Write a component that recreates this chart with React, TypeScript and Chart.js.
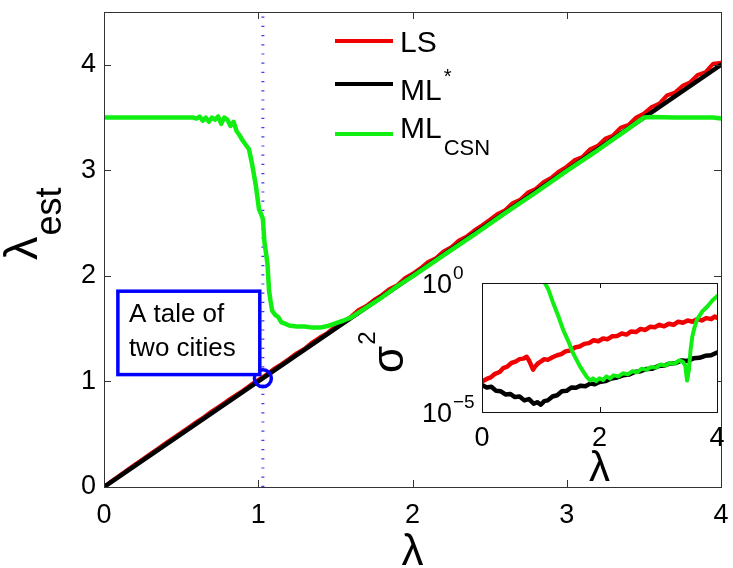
import React, { useEffect, useRef } from "react";
import { Chart, registerables } from "chart.js";

Chart.register(...registerables);

const FONT = '"Liberation Sans", Arial, Helvetica, sans-serif';
const AXIS = "#333333";
const RED = "#f00000";
const BLACK = "#000000";
const GREEN = "#11ee11";
const BLUE = "#0000ff";

// ---------- main axes ----------
const xTickValues = [0, 1, 2, 3, 4];
const yTickValues = [0, 1, 2, 3, 4];

const lsLambda = [
  0, 0.05, 0.1, 0.15, 0.2, 0.25, 0.3, 0.35, 0.4, 0.45, 0.5, 0.55, 0.6, 0.65, 0.7, 0.75, 0.8, 0.85, 0.9, 0.95,
  1.0, 1.05, 1.1, 1.15, 1.2, 1.25, 1.3, 1.35, 1.4, 1.45, 1.5, 1.55, 1.6, 1.65, 1.7, 1.75, 1.8, 1.85, 1.9, 1.95,
  2.0, 2.05, 2.1, 2.15, 2.2, 2.25, 2.3, 2.35, 2.4, 2.45, 2.5, 2.55, 2.6, 2.65, 2.7, 2.75, 2.8, 2.85, 2.9, 2.95,
  3.0, 3.05, 3.1, 3.15, 3.2, 3.25, 3.3, 3.35, 3.4, 3.45, 3.5, 3.55, 3.6, 3.65, 3.7, 3.75, 3.8, 3.85, 3.9, 3.95, 4.0,
];
const lsEst = [
  0, 0.055, 0.108, 0.16, 0.212, 0.262, 0.314, 0.363, 0.415, 0.466, 0.514, 0.566, 0.617, 0.664, 0.718, 0.765, 0.817, 0.866, 0.912, 0.966,
  1.015, 1.062, 1.118, 1.163, 1.214, 1.268, 1.31, 1.37, 1.418, 1.46, 1.522, 1.568, 1.612, 1.676, 1.715, 1.772, 1.818, 1.876, 1.91, 1.978,
  2.02, 2.07, 2.13, 2.166, 2.232, 2.27, 2.335, 2.372, 2.43, 2.478, 2.53, 2.585, 2.622, 2.69, 2.724, 2.792, 2.825, 2.89, 2.93, 2.99,
  3.035, 3.096, 3.125, 3.198, 3.232, 3.3, 3.33, 3.405, 3.43, 3.5, 3.538, 3.6, 3.632, 3.71, 3.735, 3.8, 3.835, 3.905, 3.93, 4.01, 4.02,
];

const mlLambda = [0, 0.5, 1, 1.5, 2, 2.5, 3, 3.5, 4];
const mlEst = [0, 0.5, 1, 1.5, 2, 2.5, 3, 3.5, 4];

const csnLambda = [
  0, 0.2, 0.4, 0.58, 0.6, 0.62, 0.64, 0.66, 0.68, 0.7, 0.72, 0.74, 0.76, 0.78, 0.8, 0.82, 0.84, 0.86, 0.88, 0.9,
  0.92, 0.94, 0.96, 0.985, 1.005, 1.02, 1.03, 1.04, 1.05, 1.06, 1.07, 1.08, 1.09, 1.11, 1.13, 1.15, 1.17, 1.2,
  1.25, 1.3, 1.35, 1.4, 1.45, 1.5, 1.55, 1.6, 1.7, 1.8, 1.9, 2.0, 2.2, 2.4, 2.6, 2.8, 3.0, 3.2, 3.4, 3.5, 3.55,
  3.7, 3.85, 3.95, 4.0,
];
const csnEst = [
  3.5, 3.5, 3.5, 3.5, 3.49, 3.51, 3.47, 3.5, 3.46, 3.5, 3.48, 3.51, 3.44, 3.5, 3.48, 3.42, 3.46, 3.37, 3.33, 3.28,
  3.24, 3.2, 3.06, 2.85, 2.63, 2.58, 2.54, 2.32, 2.22, 2.11, 1.86, 1.76, 1.67, 1.63, 1.61, 1.56, 1.55, 1.53,
  1.52, 1.52, 1.51, 1.51, 1.525, 1.55, 1.575, 1.605, 1.7, 1.795, 1.9, 1.995, 2.195, 2.39, 2.595, 2.79, 2.995, 3.19, 3.395, 3.5, 3.505,
  3.5, 3.5, 3.5, 3.49,
];

const cityLambda = [1.03];
const cityEst = [1.03];
const guideLambda = [1.03, 1.03];
const guideEst = [0, 4.5];

const noteLines = ["A tale of", "two cities"];
const noteCorners = { lambda: [0.09, 1.01], est: [1.065, 1.855] };

// ---------- inset axes ----------
const insetXTickValues = [0, 2, 4];
const insetYTickValues = [1e-5, 1];
const insetYTickExponents = ["\u22125", "0"];

const inLsLambda = [
  0, 0.08, 0.15, 0.22, 0.3, 0.36, 0.43, 0.5, 0.57, 0.64, 0.7, 0.76, 0.8, 0.84, 0.87, 0.9, 0.95, 1.0, 1.06, 1.12,
  1.2, 1.28, 1.35, 1.42, 1.5, 1.58, 1.66, 1.74, 1.82, 1.9, 1.98, 2.06, 2.14, 2.22, 2.3, 2.38, 2.46, 2.54, 2.62, 2.7,
  2.78, 2.86, 2.94, 3.02, 3.1, 3.18, 3.26, 3.34, 3.42, 3.5, 3.58, 3.66, 3.74, 3.82, 3.9, 3.96, 4.0,
];
const inLsVar = [
  1.51e-4, 1.91e-4, 2.19e-4, 3.02e-4, 3.55e-4, 5.01e-4, 5.75e-4, 7.94e-4, 8.91e-4, 1.12e-3, 1.17e-3, 1.38e-3, 1.0e-3, 6.31e-4, 4.37e-4, 5.62e-4, 7.59e-4, 8.91e-4, 1.12e-3, 1.05e-3,
  1.32e-3, 1.58e-3, 1.74e-3, 2.24e-3, 2.4e-3, 3.16e-3, 3.47e-3, 4.37e-3, 4.68e-3, 6.03e-3, 5.5e-3, 7.08e-3, 6.61e-3, 8.71e-3, 8.91e-3, 1.1e-2, 1.0e-2, 1.32e-2, 1.26e-2, 1.66e-2,
  1.51e-2, 2.0e-2, 1.91e-2, 2.4e-2, 2.09e-2, 2.63e-2, 2.4e-2, 3.16e-2, 2.88e-2, 3.55e-2, 3.16e-2, 3.98e-2, 3.55e-2, 4.37e-2, 3.98e-2, 5.01e-2, 4.57e-2,
];

const inMlLambda = [
  0, 0.08, 0.16, 0.24, 0.32, 0.4, 0.48, 0.56, 0.64, 0.72, 0.8, 0.88, 0.94, 1.0, 1.06, 1.12, 1.2, 1.28, 1.36, 1.44,
  1.52, 1.6, 1.68, 1.76, 1.84, 1.92, 2.0, 2.1, 2.2, 2.3, 2.4, 2.5, 2.6, 2.7, 2.8, 2.9, 3.0, 3.1, 3.2, 3.3,
  3.4, 3.5, 3.6, 3.7, 3.8, 3.9, 4.0,
];
const inMlVar = [
  1.12e-4, 8.91e-5, 9.55e-5, 6.61e-5, 6.31e-5, 4.79e-5, 5.01e-5, 3.8e-5, 3.98e-5, 2.82e-5, 3.16e-5, 2.09e-5, 2.4e-5, 1.91e-5, 2.63e-5, 2.82e-5, 3.98e-5, 4.47e-5, 6.31e-5, 6.61e-5,
  8.91e-5, 8.71e-5, 1.05e-4, 1.0e-4, 1.26e-4, 1.2e-4, 1.45e-4, 1.58e-4, 2.0e-4, 2.19e-4, 2.63e-4, 2.82e-4, 3.55e-4, 3.8e-4, 4.68e-4, 4.79e-4, 6.03e-4, 6.31e-4, 7.59e-4, 7.94e-4,
  1.0e-3, 9.55e-4, 1.2e-3, 1.26e-3, 1.51e-3, 1.58e-3, 2.0e-3,
];

const inCsnLambda = [
  0, 0.5, 0.8, 0.95, 1.03, 1.07, 1.13, 1.21, 1.3, 1.38, 1.47, 1.55, 1.67, 1.78, 1.84, 1.89, 1.94, 2.0, 2.06, 2.12,
  2.18, 2.24, 2.32, 2.4, 2.48, 2.56, 2.64, 2.72, 2.8, 2.88, 2.96, 3.04, 3.12, 3.2, 3.28, 3.36, 3.42, 3.46, 3.49, 3.52,
  3.55, 3.58, 3.62, 3.66, 3.75, 3.84, 3.92, 4.0,
];
const inCsnVar = [
  12, 9, 6, 3, 1.5, 1.0, 0.562, 0.17, 5.13e-2, 1.55e-2, 5.5e-3, 1.91e-3, 5.75e-4, 2.34e-4, 1.66e-4, 2.0e-4, 1.58e-4, 2.04e-4, 1.74e-4, 2.4e-4,
  2.0e-4, 2.63e-4, 2.4e-4, 3.16e-4, 2.88e-4, 3.8e-4, 3.47e-4, 4.79e-4, 4.37e-4, 5.5e-4, 5.25e-4, 6.92e-4, 6.31e-4, 7.94e-4, 7.59e-4, 1.0e-3, 8.71e-4, 6.31e-4, 1.66e-4, 3.98e-4,
  2.51e-3, 8.51e-3, 2.0e-2, 3.8e-2, 7.94e-2, 0.126, 0.209, 0.309,
];

const pts = (xs: number[], ys: number[]) => xs.map((x, i) => ({ x, y: ys[i] }));

function inwardTicks(ctx: CanvasRenderingContext2D, chart: any, xs: number[], ys: number[], len: number) {
  const a = chart.chartArea;
  const sx = chart.scales.x;
  const sy = chart.scales.y;
  ctx.beginPath();
  xs.forEach((v) => {
    const p = Math.round(sx.getPixelForValue(v)) + 0.5;
    ctx.moveTo(p, a.bottom);
    ctx.lineTo(p, a.bottom - len);
    ctx.moveTo(p, a.top);
    ctx.lineTo(p, a.top + len);
  });
  ys.forEach((v) => {
    const p = Math.round(sy.getPixelForValue(v)) + 0.5;
    ctx.moveTo(a.left, p);
    ctx.lineTo(a.left + len, p);
    ctx.moveTo(a.right, p);
    ctx.lineTo(a.right - len, p);
  });
  ctx.stroke();
  ctx.strokeRect(Math.round(a.left) + 0.5, Math.round(a.top) + 0.5, Math.round(a.right - a.left), Math.round(a.bottom - a.top));
}

const mainDecor = {
  id: "mainDecor",
  afterDatasetsDraw(chart: any) {
    const { ctx, scales } = chart;
    const sx = scales.x;
    const sy = scales.y;
    ctx.save();
    // note box
    const l = sx.getPixelForValue(noteCorners.lambda[0]);
    const r = sx.getPixelForValue(noteCorners.lambda[1]);
    const b = sy.getPixelForValue(noteCorners.est[0]);
    const t = sy.getPixelForValue(noteCorners.est[1]);
    ctx.fillStyle = "#ffffff";
    ctx.fillRect(l, t, r - l, b - t);
    ctx.strokeStyle = BLUE;
    ctx.lineWidth = 3.5;
    ctx.strokeRect(l, t, r - l, b - t);
    ctx.fillStyle = "#000";
    ctx.font = `26px ${FONT}`;
    ctx.textAlign = "left";
    ctx.textBaseline = "alphabetic";
    ctx.fillText(noteLines[0], l + 11, t + 31);
    ctx.fillText(noteLines[1], l + 11, t + 65);

    // frame + inward ticks
    ctx.strokeStyle = AXIS;
    ctx.lineWidth = 1;
    inwardTicks(ctx, chart, xTickValues, yTickValues, 7);

    // legend
    const legendY = [41, 84, 134];
    const legendColors = [RED, BLACK, GREEN];
    ctx.lineWidth = 4;
    legendY.forEach((y, i) => {
      ctx.strokeStyle = legendColors[i];
      ctx.beginPath();
      ctx.moveTo(335, y);
      ctx.lineTo(393, y);
      ctx.stroke();
    });
    ctx.fillStyle = "#000";
    ctx.font = `30px ${FONT}`;
    ctx.fillText("LS", 400, 52);
    ctx.fillText("ML", 400, 100);
    const mlW = ctx.measureText("ML").width;
    ctx.fillText("ML", 400, 138);
    ctx.font = `20px ${FONT}`;
    ctx.fillText("*", 400 + mlW + 2, 83);
    ctx.font = `22px ${FONT}`;
    ctx.fillText("CSN", 400 + mlW + 2, 155);

    // axis titles
    ctx.font = `44px ${FONT}`;
    ctx.textAlign = "center";
    ctx.fillText("\u03bb", sx.getPixelForValue(2), 565);

    ctx.save();
    ctx.translate(37, 260);
    ctx.rotate(-Math.PI / 2);
    ctx.textAlign = "left";
    ctx.font = `47px ${FONT}`;
    ctx.fillText("\u03bb", 0, 0);
    const lw = ctx.measureText("\u03bb").width;
    ctx.font = `36px ${FONT}`;
    ctx.fillText("est", lw + 1, 24);
    ctx.restore();

    ctx.restore();
  },
};

const insetDecor = {
  id: "insetDecor",
  beforeDatasetsDraw(chart: any) {
    const { ctx, chartArea: a } = chart;
    ctx.save();
    ctx.fillStyle = "#ffffff";
    ctx.fillRect(a.left, a.top, a.right - a.left, a.bottom - a.top);
    ctx.restore();
  },
  afterDatasetsDraw(chart: any) {
    const { ctx, chartArea: a, scales } = chart;
    const sx = scales.x;
    const sy = scales.y;
    ctx.save();
    ctx.strokeStyle = "#111";
    ctx.lineWidth = 1;
    inwardTicks(ctx, chart, insetXTickValues, insetYTickValues, 5);

    ctx.fillStyle = "#000";
    ctx.textBaseline = "alphabetic";
    insetYTickValues.forEach((v, i) => {
      const p = sy.getPixelForValue(v);
      ctx.font = `27px ${FONT}`;
      ctx.textAlign = "right";
      ctx.fillText("10", a.left - 30, p + 10);
      ctx.font = `19px ${FONT}`;
      ctx.textAlign = "left";
      ctx.fillText(insetYTickExponents[i], a.left - 29, p - 4);
    });

    ctx.font = `42px ${FONT}`;
    ctx.textAlign = "center";
    ctx.fillText("\u03bb", sx.getPixelForValue(2), 219);

    ctx.save();
    ctx.translate(73, 111);
    ctx.rotate(-Math.PI / 2);
    ctx.textAlign = "left";
    ctx.font = `44px ${FONT}`;
    ctx.fillText("\u03c3", 0, 0);
    const sw = ctx.measureText("\u03c3").width;
    ctx.font = `24px ${FONT}`;
    ctx.fillText("2", sw + 1, -28);
    ctx.restore();

    ctx.restore();
  },
};

function lineSet(label: string, data: any[], color: string, width: number) {
  return {
    label,
    data,
    showLine: true,
    borderColor: color,
    backgroundColor: color,
    borderWidth: width,
    pointRadius: 0,
    tension: 0,
    borderJoinStyle: "round",
    borderCapStyle: "round",
  };
}

export default function App() {
  const mainRef = useRef<HTMLCanvasElement>(null);
  const insetRef = useRef<HTMLCanvasElement>(null);

  useEffect(() => {
    const tickFont = { family: FONT, size: 27 };
    const main = new Chart(mainRef.current as HTMLCanvasElement, {
      type: "scatter",
      data: {
        datasets: [
          {
            label: "city",
            data: pts(cityLambda, cityEst),
            showLine: false,
            pointRadius: 8.5,
            pointBorderWidth: 3.5,
            pointBorderColor: BLUE,
            pointBackgroundColor: "rgba(0,0,0,0)",
          } as any,
          lineSet("MLCSN", pts(csnLambda, csnEst), GREEN, 4.5),
          lineSet("ML*", pts(mlLambda, mlEst), BLACK, 4.5),
          lineSet("LS", pts(lsLambda, lsEst), RED, 4),
          {
            label: "guide",
            data: pts(guideLambda, guideEst),
            showLine: true,
            borderColor: "#3a3aff",
            borderWidth: 3,
            borderDash: [1.2, 8],
            pointRadius: 0,
          } as any,
        ],
      },
      options: {
        responsive: false,
        animation: false,
        devicePixelRatio: 1,
        layout: { padding: { left: 0, right: 10, top: 2, bottom: 0 } },
        plugins: { legend: { display: false }, tooltip: { enabled: false } },
        scales: {
          x: {
            type: "linear",
            min: 0,
            max: 4,
            afterBuildTicks: (s: any) => {
              s.ticks = xTickValues.map((v) => ({ value: v }));
            },
            afterFit: (s: any) => {
              s.height = 81;
              s.paddingLeft = 0;
              s.paddingRight = 0;
            },
            ticks: { font: tickFont, color: "#000", padding: 12, maxRotation: 0, autoSkip: false },
            grid: { display: false, drawTicks: false },
            border: { display: false },
          },
          y: {
            type: "linear",
            min: 0,
            max: 4.5,
            afterBuildTicks: (s: any) => {
              s.ticks = yTickValues.map((v) => ({ value: v }));
            },
            afterFit: (s: any) => {
              s.width = 104;
              s.paddingTop = 0;
              s.paddingBottom = 0;
            },
            ticks: { font: tickFont, color: "#000", padding: 8, autoSkip: false },
            grid: { display: false, drawTicks: false },
            border: { display: false },
          },
        },
      } as any,
      plugins: [mainDecor],
    });

    const inset = new Chart(insetRef.current as HTMLCanvasElement, {
      type: "scatter",
      data: {
        datasets: [
          lineSet("MLCSN", pts(inCsnLambda, inCsnVar), GREEN, 4),
          lineSet("LS", pts(inLsLambda, inLsVar), RED, 4.5),
          lineSet("ML*", pts(inMlLambda, inMlVar), BLACK, 4.5),
        ],
      },
      options: {
        responsive: false,
        animation: false,
        devicePixelRatio: 1,
        layout: { padding: { left: 0, right: 13, top: 21, bottom: 0 } },
        plugins: { legend: { display: false }, tooltip: { enabled: false } },
        scales: {
          x: {
            type: "linear",
            min: 0,
            max: 4,
            afterBuildTicks: (s: any) => {
              s.ticks = insetXTickValues.map((v) => ({ value: v }));
            },
            afterFit: (s: any) => {
              s.height = 86;
              s.paddingLeft = 0;
              s.paddingRight = 0;
            },
            ticks: { font: { family: FONT, size: 27 }, color: "#000", padding: 10, maxRotation: 0, autoSkip: false },
            grid: { display: false, drawTicks: false },
            border: { display: false },
          },
          y: {
            type: "logarithmic",
            min: 1e-5,
            max: 1,
            afterBuildTicks: (s: any) => {
              s.ticks = insetYTickValues.map((v) => ({ value: v }));
            },
            afterFit: (s: any) => {
              s.width = 152;
              s.paddingTop = 0;
              s.paddingBottom = 0;
            },
            ticks: { display: false },
            grid: { display: false, drawTicks: false },
            border: { display: false },
          },
        },
      } as any,
      plugins: [insetDecor],
    });

    return () => {
      main.destroy();
      inset.destroy();
    };
  }, []);

  return (
    <div style={{ position: "absolute", left: 0, top: 0, width: 733, height: 568, background: "#fff", overflow: "hidden" }}>
      <canvas ref={mainRef} width={733} height={568} style={{ position: "absolute", left: 0, top: 0, width: 733, height: 568 }} />
      <canvas ref={insetRef} width={400} height={236} style={{ position: "absolute", left: 330, top: 262, width: 400, height: 236 }} />
    </div>
  );
}
